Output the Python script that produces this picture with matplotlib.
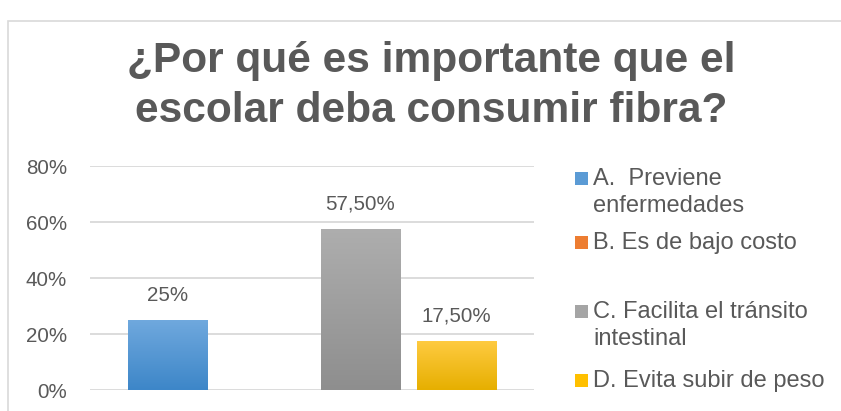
import matplotlib.pyplot as plt
import numpy as np
from matplotlib.colors import LinearSegmentedColormap
from matplotlib.patches import Rectangle
from matplotlib.ticker import PercentFormatter

categories = ['A.  Previene\nenfermedades', 'B. Es de bajo costo',
              'C. Facilita el tránsito\nintestinal', 'D. Evita subir de peso']
values = [0.25, 0.0, 0.575, 0.175]
value_labels = ['25%', '', '57,50%', '17,50%']
yticks = [0, 0.2, 0.4, 0.6, 0.8]
title = '¿Por qué es importante que el\nescolar deba consumir fibra?'

# gradient colours (top, bottom) per series
grad = [('#70A9DE', '#3D86C8'), ('#F28A48', '#DA6A22'),
        ('#AEAEAE', '#8E8E8E'), ('#FFCB42', '#E6AF00')]
legend_colors = ['#5B9BD5', '#ED7D31', '#A5A5A5', '#FFC000']

plt.rcParams['font.family'] = ['Liberation Sans', 'DejaVu Sans']
text_color = '#595959'

fig = plt.figure(figsize=(8.41, 4.11), dpi=100, facecolor='white')
W, H = 841.0, 411.0

# chart frame (cropped at the right and bottom)
fig.patches.append(Rectangle((8 / W, -0.1), 1.2, 1 - 21 / H + 0.1,
                             transform=fig.transFigure, fill=False,
                             edgecolor='#D9D9D9', linewidth=1.2))

ax = fig.add_axes([90 / W, 21 / H, (534 - 90) / W, (390 - 166) / H])

x = np.arange(len(values))
width = 0.82
bars = ax.bar(x, values, width=width, color='none', edgecolor='none')

for b, (top, bottom) in zip(bars, grad):
    h = b.get_height()
    if h <= 0:
        continue
    cmap = LinearSegmentedColormap.from_list('g', [bottom, top])
    g = np.linspace(0, 1, 256).reshape(-1, 1)
    im = ax.imshow(g, cmap=cmap, origin='lower', aspect='auto',
                   extent=[b.get_x(), b.get_x() + b.get_width(), 0, h],
                   zorder=2)
    im.set_clip_path(b)

for xi, v, lab in zip(x, values, value_labels):
    if lab:
        ax.annotate(lab, xy=(xi, v), xytext=(0, 18),
                    textcoords='offset points', ha='center', va='center',
                    fontsize=14.8, color=text_color)

ax.set_xlim(-0.803, len(values) - 1 + 0.803)
ax.set_ylim(0, 0.8)
ax.set_yticks(yticks)
ax.yaxis.set_major_formatter(PercentFormatter(1.0, decimals=0))
ax.set_xticks([])
ax.tick_params(axis='y', length=0, pad=16.5, labelsize=14.8,
               labelcolor=text_color)
ax.grid(axis='y', color='#D9D9D9', linewidth=1.3, zorder=0)
ax.set_axisbelow(True)
for s in ax.spines.values():
    s.set_visible(False)

# title
fig.text(431 / W, 1 - 86 / H, title, ha='center', va='center',
         fontsize=30.6, fontweight='bold', color=text_color, linespacing=1.3)

# legend
leg_y = [179, 243, 312, 381]
for lab, c, y in zip(categories, legend_colors, leg_y):
    fig.patches.append(Rectangle((575 / W, 1 - (y + 6) / H), 13 / W, 13 / H,
                                 transform=fig.transFigure, facecolor=c,
                                 edgecolor='none'))
    for k, line in enumerate(lab.split('\n')):
        fig.text(593 / W, 1 - (y + 27 * k) / H, line, ha='left',
                 va='center', fontsize=17, color=text_color)

plt.savefig('out.png', dpi=100, facecolor='white')
